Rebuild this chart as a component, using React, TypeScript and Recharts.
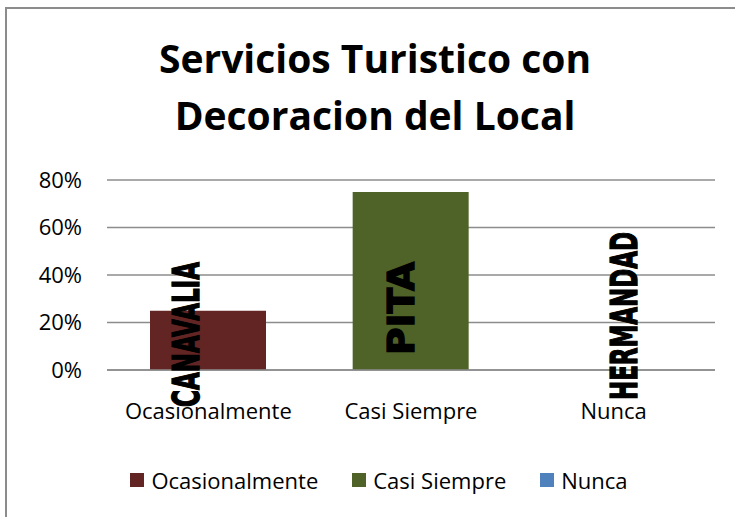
import React from 'react';
import { BarChart, Bar, XAxis, YAxis, CartesianGrid, Cell, ReferenceDot } from 'recharts';

const categories = ['Ocasionalmente', 'Casi Siempre', 'Nunca'];
const shares = [0.25, 0.75, 0];
const places = ['CANAVALIA', 'PITA', 'HERMANDAD'];
const yTicks = [0, 0.2, 0.4, 0.6, 0.8];
const colors = ['#632523', '#4F6228', '#4F81BD'];

const data = categories.map((name, i) => ({ name, value: shares[i] }));

// hand-placed text boxes in the original: shift from category centre, bottom end, length
const placeBoxes = [
  { dx: -22, bottom: 407, length: 145 },
  { dx: -10, bottom: 355, length: 93 },
  { dx: 11, bottom: 400, length: 168 },
];

const FONT = '"Open Sans", sans-serif';

const PlaceLabel = (props: any) => {
  const { viewBox, index, text } = props;
  const box = placeBoxes[index];
  if (!box || !viewBox) return null;
  const cx = Number(viewBox.x) + Number(viewBox.width || 0) / 2 + box.dx;
  const cy = box.bottom - box.length / 2;
  return (
    <text
      x={cx}
      y={cy}
      transform={`rotate(-90 ${cx} ${cy})`}
      textAnchor="middle"
      dominantBaseline="central"
      fontFamily='"DejaVu Sans Condensed", "DejaVu Sans", sans-serif'
      fontWeight="bold"
      fontSize={37}
      fill="#000"
      stroke="#000"
      strokeWidth={1.3}
      textLength={box.length}
      lengthAdjust="spacingAndGlyphs"
    >
      {text}
    </text>
  );
};

const App: React.FC = () => {
  return (
    <div
      style={{
        position: 'relative',
        width: 735,
        height: 517,
        overflow: 'hidden',
        background: '#fff',
        fontFamily: FONT,
      }}
    >
      <style>{'html, body { margin: 0; padding: 0; overflow: hidden; background: #fff; }'}</style>
      <svg width={735} height={517} style={{ position: 'absolute', left: 0, top: 0 }}>
        {/* frame: only top and left edges show in the crop */}
        <path d="M6 517 V8 H735" fill="none" stroke="#8c8c8c" strokeWidth={2} />
      </svg>
      <div
        style={{
          position: 'absolute',
          top: 29,
          left: 0,
          width: 735,
          paddingLeft: 15,
          boxSizing: 'border-box',
          textAlign: 'center',
          fontSize: 39,
          fontWeight: 700,
          lineHeight: '57px',
          color: '#000',
        }}
      >
        Servicios Turistico con
        <br />
        Decoracion del Local
      </div>
      <div style={{ position: 'absolute', left: 0, top: 0 }}>
        <BarChart
          width={735}
          height={517}
          data={data}
          margin={{ top: 180, right: 20, left: 7, bottom: 87 }}
        >
          <CartesianGrid vertical={false} stroke="#8c8c8c" strokeWidth={1.5} />
          <XAxis
            dataKey="name"
            axisLine={{ stroke: '#8c8c8c', strokeWidth: 1.5 }}
            tickLine={false}
            tickSize={0}
            tickMargin={33}
            height={60}
            tick={{ fill: '#000', fontSize: 22, fontFamily: FONT }}
          />
          <YAxis
            domain={[0, 0.8]}
            ticks={yTicks}
            width={100}
            axisLine={false}
            tickLine={false}
            tickSize={0}
            tickMargin={25}
            tickFormatter={(v: number) => `${Math.round(v * 100)}%`}
            tick={{ fill: '#000', fontSize: 22, fontFamily: FONT }}
          />
          <Bar dataKey="value" barSize={116} isAnimationActive={false}>
            {data.map((d, i) => (
              <Cell key={d.name} fill={colors[i]} />
            ))}
          </Bar>
          {places.map((p, i) => (
            <ReferenceDot
              key={p}
              x={categories[i]}
              y={0}
              r={0}
              fill="none"
              stroke="none"
              label={<PlaceLabel index={i} text={p} />}
            />
          ))}
        </BarChart>
      </div>
      <div
        style={{
          position: 'absolute',
          top: 465,
          left: 0,
          width: 735,
          paddingLeft: 23,
          boxSizing: 'border-box',
          display: 'flex',
          justifyContent: 'center',
          alignItems: 'center',
          fontSize: 22,
          lineHeight: '30px',
          color: '#000',
        }}
      >
        {categories.map((c, i) => (
          <div key={c} style={{ display: 'flex', alignItems: 'center', marginRight: i < categories.length - 1 ? 34 : 0 }}>
            <span style={{ width: 14, height: 14, background: colors[i], display: 'inline-block', marginRight: 7 }} />
            <span>{c}</span>
          </div>
        ))}
      </div>
    </div>
  );
};

export default App;
